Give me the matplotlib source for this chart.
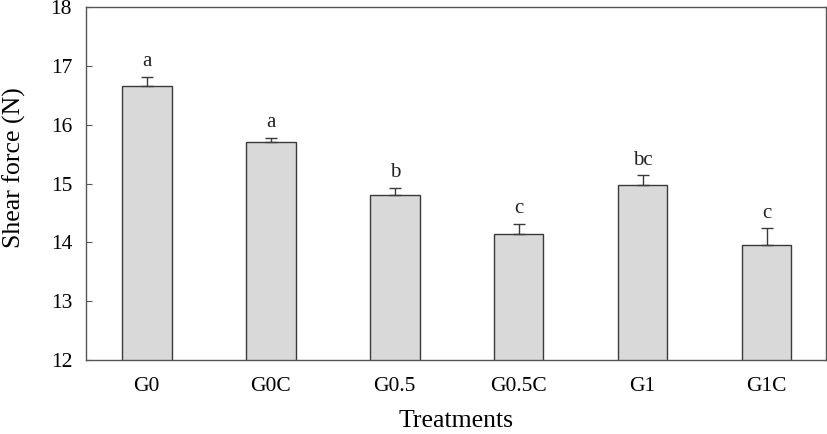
import matplotlib
matplotlib.use('Agg')
import matplotlib.pyplot as plt

plt.rcParams['font.family'] = ['Liberation Serif', 'DejaVu Serif']

# === Data ===
treatments = ['G0', 'G0C', 'G0.5', 'G0.5C', 'G1', 'G1C']
shear = [16.66, 15.71, 14.80, 14.14, 14.97, 13.95]
err = [0.15, 0.07, 0.13, 0.18, 0.17, 0.29]
letters = ['a', 'a', 'b', 'c', 'bc', 'c']

fig = plt.figure(figsize=(8.27, 4.34), dpi=100)
ax = fig.add_axes([0.104, 0.17, 0.895, 0.814])

x = list(range(len(treatments)))
ax.bar(x, shear, width=0.4, color='#d9d9d9', edgecolor='#3a3a3a', linewidth=1.0,
       yerr=[[0] * len(err), err], error_kw=dict(ecolor='#3a3a3a', elinewidth=1.0,
                                                  capsize=4, capthick=1.0),
       zorder=2)

for xi, v, e, lab in zip(x, shear, err, letters):
    ax.annotate(lab, (xi, v + e), xytext=(0, 4), textcoords='offset points',
                ha='center', va='bottom', fontsize=15, color='#222')

ax.set_ylim(12, 18)
ax.set_xlim(-0.49, 5.48)
ax.set_yticks(range(12, 19))
ax.set_xticks(x)
ax.set_xticklabels(treatments)
ax.tick_params(axis='y', direction='in', length=4, labelsize=15.5, color='#555', pad=10)
ax.tick_params(axis='x', length=0, labelsize=15.5, pad=12)
for s in ax.spines.values():
    s.set_color('#555')
    s.set_linewidth(1.0)

ax.set_xlabel('Treatments', fontsize=18.5, labelpad=10)
ax.set_ylabel('Shear force (N)', fontsize=18.5)
ax.yaxis.set_label_coords(-0.081, 0.545)

fig.savefig('out.png', dpi=100, facecolor='white')
plt.close()
